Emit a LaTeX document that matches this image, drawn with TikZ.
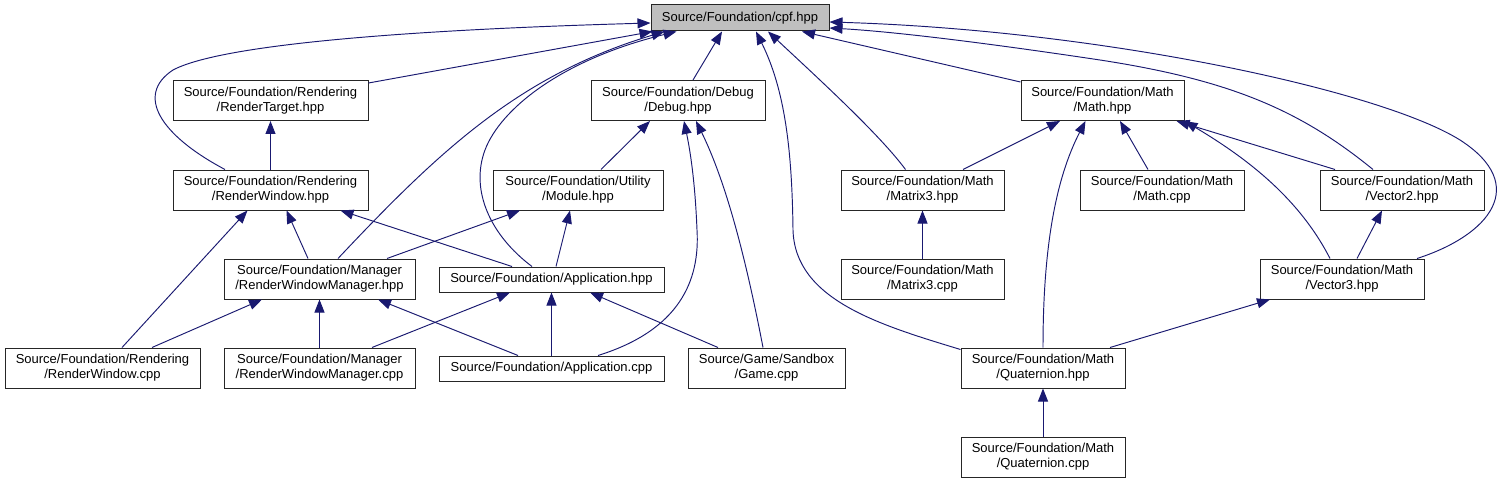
\documentclass[tikz,border=0pt]{standalone}
\usepackage{fontspec}
\setmainfont{Liberation Sans}
\usepackage{xcolor}
\usepackage{tikz}
\usetikzlibrary{arrows.meta}
\definecolor{edgeblue}{RGB}{25,25,112}
\definecolor{rootgray}{RGB}{191,191,191}

\begin{document}
\begin{tikzpicture}[
  x=1pt, y=-1pt,
  box/.style={rectangle, draw=black!85, line width=1pt,
    minimum height=40pt, inner sep=2pt,
    align=center, font=\fontsize{13}{15}\selectfont, fill=white},
  line/.style={box, minimum height=25pt},
  arr/.style={{Triangle[length=13pt,width=10pt]}-, draw=edgeblue,
    line width=0.95pt}
]
\useasboundingbox (0,0) rectangle (1510,484);
% top
\node[line, fill=rootgray, minimum width=178pt, minimum height=26pt] (cpf) at (740,18) {Source/Foundation/cpf.hpp};
% first row
\node[box, minimum width=195pt] (rtarget) at (270.5,100.5) {Source/Foundation/Rendering\\/RenderTarget.hpp};
\node[box, minimum width=174pt] (debug) at (678,100.5) {Source/Foundation/Debug\\/Debug.hpp};
\node[box, minimum width=163pt] (mathh) at (1102.5,100.5) {Source/Foundation/Math\\/Math.hpp};
% second row
\node[box, minimum width=195pt] (rwin) at (270.5,190) {Source/Foundation/Rendering\\/RenderWindow.hpp};
\node[box, minimum width=170pt] (module) at (578,190) {Source/Foundation/Utility\\/Module.hpp};
\node[box, minimum width=163pt] (mat3h) at (922.5,190) {Source/Foundation/Math\\/Matrix3.hpp};
\node[box, minimum width=164pt] (mathc) at (1162,190) {Source/Foundation/Math\\/Math.cpp};
\node[box, minimum width=164pt] (vec2) at (1402,190) {Source/Foundation/Math\\/Vector2.hpp};
% third row
\node[box, minimum width=191pt] (rwmgr) at (319.5,279) {Source/Foundation/Manager\\/RenderWindowManager.hpp};
\node[line, minimum width=225pt] (apph) at (551.5,279.5) {Source/Foundation/Application.hpp};
\node[box, minimum width=163pt] (mat3c) at (922.5,279) {Source/Foundation/Math\\/Matrix3.cpp};
\node[box, minimum width=164pt] (vec3) at (1342,279) {Source/Foundation/Math\\/Vector3.hpp};
% fourth row
\node[box, minimum width=195pt] (rwinc) at (102.5,368) {Source/Foundation/Rendering\\/RenderWindow.cpp};
\node[box, minimum width=191pt] (rwmgrc) at (319.5,368) {Source/Foundation/Manager\\/RenderWindowManager.cpp};
\node[line, minimum width=225pt] (appc) at (551.5,368.5) {Source/Foundation/Application.cpp};
\node[box, minimum width=157pt] (game) at (766.5,368) {Source/Game/Sandbox\\/Game.cpp};
\node[box, minimum width=164pt] (quath) at (1043,368) {Source/Foundation/Math\\/Quaternion.hpp};
\node[box, minimum width=164pt] (quatc) at (1043,457) {Source/Foundation/Math\\/Quaternion.cpp};

% edges into cpf.hpp
\draw[arr] ([yshift=-5pt]cpf.west) .. controls (400,30) and (220,45) .. (173,70)
  .. controls (135,95) and (160,135) .. ([xshift=-45.5pt]rwin.north);
\draw[arr] ([xshift=2pt]cpf.south west) -- ([yshift=-3pt]rtarget.north east);
\draw[arr] ([xshift=14pt]cpf.south west) .. controls (520,75) and (440,150) .. ([xshift=18.5pt]rwmgr.north);
\draw[arr] ([xshift=26pt]cpf.south west) .. controls (560,60) and (500,110) .. (485,150)
  .. controls (470,190) and (490,235) .. ([xshift=-19.5pt]apph.north);
\draw[arr] ([xshift=-18pt]cpf.south) -- ([xshift=15pt]debug.north);
\draw[arr] ([xshift=16pt]cpf.south) .. controls (785,90) and (792,150) .. (793,230)
  .. controls (795,300) and (880,325) .. ([yshift=-2pt]quath.north west);
\draw[arr] ([xshift=28pt]cpf.south) .. controls (820,80) and (880,135) .. ([xshift=-17pt]mat3h.north);
\draw[arr] ([xshift=62pt]cpf.south) -- ([yshift=-2pt]mathh.north west);
\draw[arr] ([yshift=-10pt]cpf.east) .. controls (900,32) and (1000,45) .. (1100,60)
  .. controls (1230,80) and (1300,110) .. ([xshift=-29pt]vec2.north);
\draw[arr] ([yshift=-4pt]cpf.east) .. controls (1100,30) and (1380,90) .. (1460,140)
  .. controls (1530,185) and (1490,235) .. ([xshift=75pt]vec3.north);
% rendering
\draw[arr] (rtarget) -- (rwin);
\draw[arr] ([xshift=16pt]rwin.south) -- ([xshift=-11.5pt]rwmgr.north);
\draw[arr] ([xshift=70pt]rwin.south) -- ([xshift=-39.5pt]apph.north);
\draw[arr] ([xshift=-23pt]rwin.south) -- ([xshift=19.5pt]rwinc.north);
% debug and module
\draw[arr] ([xshift=-28pt]debug.south) -- ([xshift=23pt]module.north);
\draw[arr] ([xshift=6pt]debug.south) .. controls (690,150) and (695,180) .. (697,230)
  .. controls (700,280) and (680,330) .. ([xshift=46.5pt]appc.north);
\draw[arr] ([xshift=18pt]debug.south) .. controls (730,190) and (750,280) .. ([xshift=-3.5pt]game.north);
\draw[arr] ([xshift=-58pt]module.south) -- ([xshift=67.5pt]rwmgr.north);
\draw[arr] ([xshift=-8pt]module.south) -- ([xshift=4.5pt]apph.north);
% manager and application
\draw[arr] ([xshift=-57.5pt]rwmgr.south) -- ([xshift=49.5pt]rwinc.north);
\draw[arr] (rwmgr) -- (rwmgrc);
\draw[arr] ([xshift=58.5pt]rwmgr.south) -- ([xshift=-33.5pt]appc.north);
\draw[arr] ([xshift=-41.5pt]apph.south) -- ([xshift=52.5pt]rwmgrc.north);
\draw[arr] (apph) -- (appc);
\draw[arr] ([xshift=38.5pt]apph.south) -- ([xshift=-48.5pt]game.north);
% math
\draw[arr] ([xshift=-42.5pt]mathh.south) -- ([xshift=40.5pt]mat3h.north);
\draw[arr] ([xshift=17.5pt]mathh.south) -- ([xshift=-14pt]mathc.north);
\draw[arr] ([xshift=-8pt]mathh.south east) -- ([xshift=-67pt]vec2.north);
\draw[arr] (mathh.south east) .. controls (1250,160) and (1300,200) .. ([xshift=-12pt]vec3.north);
\draw[arr] ([xshift=-17pt]mathh.south) .. controls (1055,180) and (1043,250) .. (quath.north);
\draw[arr] (mat3h) -- (mat3c);
\draw[arr] ([xshift=-20pt]vec2.south) -- ([xshift=15pt]vec3.north);
\draw[arr] ([xshift=-72pt]vec3.south) -- ([xshift=67pt]quath.north);
\draw[arr] (quath) -- (quatc);
\end{tikzpicture}
\end{document}
